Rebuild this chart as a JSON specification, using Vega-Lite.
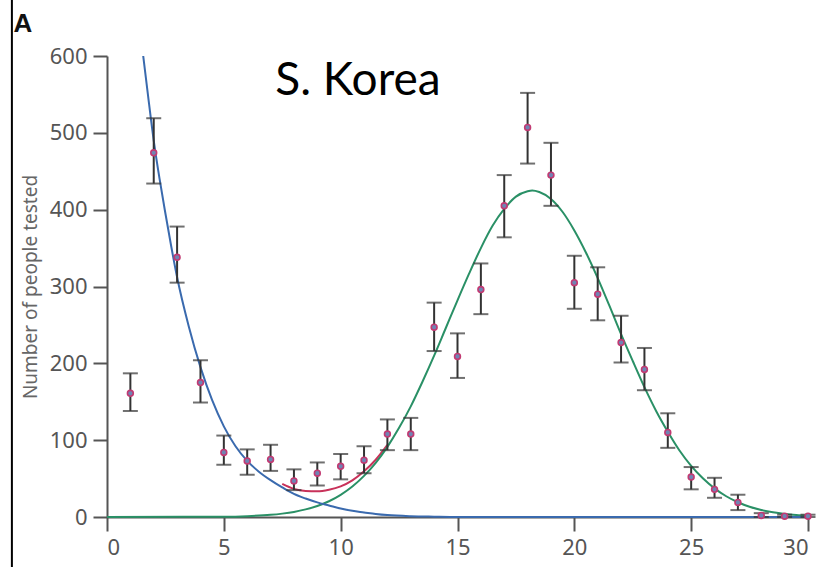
{
  "$schema": "https://vega.github.io/schema/vega-lite/v6.json",
  "width": 701,
  "height": 461,
  "autosize": "none",
  "padding": {"left": 107, "top": 56, "right": 17, "bottom": 50},
  "background": "white",
  "config": {
    "view": {"stroke": null},
    "axis": {"grid": false, "domainColor": "#555", "domainWidth": 2, "tickColor": "#555", "tickWidth": 2, "tickSize": 14, "labelFontSize": 22, "labelColor": "#555", "labelFont": "Noto Sans", "labelPadding": 6, "titleFontSize": 19, "titleFontWeight": "normal", "titleColor": "#666", "titleFont": "Noto Sans"}
  },
  "datasets": {
    "pts": [
      {"day": 1, "n": 161, "lo": 138, "hi": 187},
      {"day": 2, "n": 474, "lo": 434, "hi": 519},
      {"day": 3, "n": 338, "lo": 305, "hi": 378},
      {"day": 4, "n": 175, "lo": 149, "hi": 204},
      {"day": 5, "n": 84, "lo": 68, "hi": 106},
      {"day": 6, "n": 73, "lo": 55, "hi": 88},
      {"day": 7, "n": 75, "lo": 60, "hi": 94},
      {"day": 8, "n": 47, "lo": 35, "hi": 62},
      {"day": 9, "n": 57, "lo": 41, "hi": 71},
      {"day": 10, "n": 66, "lo": 49, "hi": 82},
      {"day": 11, "n": 74, "lo": 57, "hi": 92},
      {"day": 12, "n": 108, "lo": 87, "hi": 127},
      {"day": 13, "n": 108, "lo": 87, "hi": 129},
      {"day": 14, "n": 247, "lo": 216, "hi": 279},
      {"day": 15, "n": 209, "lo": 181, "hi": 239},
      {"day": 16, "n": 296, "lo": 264, "hi": 330},
      {"day": 17, "n": 405, "lo": 364, "hi": 445},
      {"day": 18, "n": 507, "lo": 460, "hi": 552},
      {"day": 19, "n": 445, "lo": 405, "hi": 487},
      {"day": 20, "n": 305, "lo": 271, "hi": 340},
      {"day": 21, "n": 290, "lo": 256, "hi": 325},
      {"day": 22, "n": 227, "lo": 201, "hi": 262},
      {"day": 23, "n": 192, "lo": 165, "hi": 220},
      {"day": 24, "n": 110, "lo": 90, "hi": 135},
      {"day": 25, "n": 52, "lo": 36, "hi": 65},
      {"day": 26, "n": 36, "lo": 25, "hi": 51},
      {"day": 27, "n": 19, "lo": 9, "hi": 29},
      {"day": 28, "n": 2, "lo": 0, "hi": 5},
      {"day": 29, "n": 1, "lo": 0, "hi": 3},
      {"day": 30, "n": 1, "lo": 0, "hi": 3}
    ],
    "blue": [
      {"x": 1.55, "y": 600}, {"x": 1.75, "y": 550}, {"x": 2, "y": 490}, {"x": 2.25, "y": 440},
      {"x": 2.5, "y": 395}, {"x": 2.75, "y": 352}, {"x": 3, "y": 312}, {"x": 3.5, "y": 248},
      {"x": 4, "y": 195}, {"x": 4.5, "y": 152}, {"x": 5, "y": 118}, {"x": 5.5, "y": 92},
      {"x": 6, "y": 73}, {"x": 6.5, "y": 59}, {"x": 7, "y": 48}, {"x": 7.5, "y": 38.5},
      {"x": 8, "y": 30}, {"x": 8.5, "y": 24}, {"x": 9, "y": 19}, {"x": 9.5, "y": 15},
      {"x": 10, "y": 11}, {"x": 10.5, "y": 8}, {"x": 11, "y": 6}, {"x": 11.5, "y": 4},
      {"x": 12, "y": 2.5}, {"x": 13, "y": 1}, {"x": 14, "y": 0.4}, {"x": 15, "y": 0}, {"x": 30, "y": 0}
    ],
    "green": [
      {"x": 0, "y": 0}, {"x": 5, "y": 0.4}, {"x": 6, "y": 1.1}, {"x": 7, "y": 2.8}, {"x": 7.5, "y": 4.4},
      {"x": 8, "y": 6.6}, {"x": 8.5, "y": 9.9}, {"x": 9, "y": 14.4}, {"x": 9.5, "y": 20.5},
      {"x": 10, "y": 28.9}, {"x": 10.5, "y": 39.7}, {"x": 11, "y": 53.5}, {"x": 11.5, "y": 70.5},
      {"x": 12, "y": 91.3}, {"x": 12.5, "y": 116}, {"x": 13, "y": 144}, {"x": 13.5, "y": 176},
      {"x": 14, "y": 210}, {"x": 14.5, "y": 246}, {"x": 15, "y": 282}, {"x": 15.5, "y": 317},
      {"x": 16, "y": 350}, {"x": 16.5, "y": 379}, {"x": 17, "y": 401}, {"x": 17.5, "y": 417},
      {"x": 18, "y": 424}, {"x": 18.2, "y": 425}, {"x": 18.5, "y": 423}, {"x": 19, "y": 414},
      {"x": 19.5, "y": 397}, {"x": 20, "y": 373}, {"x": 20.5, "y": 344}, {"x": 21, "y": 311},
      {"x": 21.5, "y": 275}, {"x": 22, "y": 238}, {"x": 22.5, "y": 203}, {"x": 23, "y": 169},
      {"x": 23.5, "y": 138}, {"x": 24, "y": 111}, {"x": 24.5, "y": 86.6}, {"x": 25, "y": 66.6},
      {"x": 25.5, "y": 50.4}, {"x": 26, "y": 37.3}, {"x": 26.5, "y": 27}, {"x": 27, "y": 19.2},
      {"x": 27.5, "y": 13.3}, {"x": 28, "y": 9.1}, {"x": 28.5, "y": 6.1}, {"x": 29, "y": 4},
      {"x": 29.5, "y": 2.6}, {"x": 30, "y": 1.6}
    ],
    "red": [
      {"x": 7.5, "y": 43}, {"x": 8, "y": 36.6}, {"x": 8.5, "y": 33.9}, {"x": 9, "y": 33.4},
      {"x": 9.5, "y": 35.5}, {"x": 10, "y": 39.9}, {"x": 10.5, "y": 47.7}, {"x": 11, "y": 59.5},
      {"x": 11.5, "y": 74.5}, {"x": 12, "y": 93.8}
    ],
    "border": [{"bx": -4.07, "by1": -70, "by2": 680}],
    "label": [{"lx": 7.2, "ly": 567, "t": "S. Korea"}],
    "panel": [{"px": -4.0, "py": 641, "t": "A"}]
  },
  "layer": [
    {
      "data": {"name": "border"},
      "mark": {"type": "rule", "color": "#000", "strokeWidth": 2},
      "encoding": {
        "x": {"field": "bx", "type": "quantitative", "scale": {"domain": [0, 30], "nice": false},
          "axis": {"values": [0, 5, 10, 15, 20, 25, 30], "title": null}},
        "y": {"field": "by1", "type": "quantitative", "scale": {"domain": [0, 600], "nice": false},
          "axis": {"values": [0, 100, 200, 300, 400, 500, 600], "title": "Number of people tested", "titlePadding": 9}},
        "y2": {"field": "by2"}
      }
    },
    {
      "data": {"name": "red"},
      "mark": {"type": "line", "color": "#c8325a", "strokeWidth": 2, "interpolate": "monotone"},
      "encoding": {
        "x": {"field": "x", "type": "quantitative", "title": null},
        "y": {"field": "y", "type": "quantitative", "title": "Number of people tested"}
      }
    },
    {
      "data": {"name": "green"},
      "mark": {"type": "line", "color": "#2a9066", "strokeWidth": 2, "interpolate": "monotone"},
      "encoding": {
        "x": {"field": "x", "type": "quantitative", "title": null},
        "y": {"field": "y", "type": "quantitative", "title": "Number of people tested"}
      }
    },
    {
      "data": {"name": "blue"},
      "mark": {"type": "line", "color": "#3a6aae", "strokeWidth": 2, "interpolate": "monotone"},
      "encoding": {
        "x": {"field": "x", "type": "quantitative", "title": null},
        "y": {"field": "y", "type": "quantitative", "title": "Number of people tested"}
      }
    },
    {
      "data": {"name": "pts"},
      "mark": {"type": "errorbar", "ticks": {"size": 15, "color": "#333", "strokeWidth": 2}, "color": "#333", "thickness": 2},
      "encoding": {
        "x": {"field": "day", "type": "quantitative", "title": null},
        "y": {"field": "lo", "type": "quantitative", "title": "Number of people tested"},
        "y2": {"field": "hi"}
      }
    },
    {
      "data": {"name": "pts"},
      "mark": {"type": "point", "filled": false, "shape": "circle", "size": 34, "stroke": "#c23a72", "strokeWidth": 1.6, "fill": "#6f84b4", "fillOpacity": 1, "opacity": 1},
      "encoding": {
        "x": {"field": "day", "type": "quantitative", "title": null},
        "y": {"field": "n", "type": "quantitative", "title": "Number of people tested"}
      }
    },
    {
      "data": {"name": "label"},
      "mark": {"type": "text", "font": "Lato", "fontSize": 46, "color": "#000", "align": "left", "baseline": "middle"},
      "encoding": {
        "x": {"field": "lx", "type": "quantitative", "title": null},
        "y": {"field": "ly", "type": "quantitative", "title": "Number of people tested"},
        "text": {"field": "t"}
      }
    },
    {
      "data": {"name": "panel"},
      "mark": {"type": "text", "font": "Liberation Sans", "fontSize": 26, "fontWeight": "bold", "color": "#111", "align": "left", "baseline": "middle"},
      "encoding": {
        "x": {"field": "px", "type": "quantitative", "title": null},
        "y": {"field": "py", "type": "quantitative", "title": "Number of people tested"},
        "text": {"field": "t"}
      }
    }
  ]
}
